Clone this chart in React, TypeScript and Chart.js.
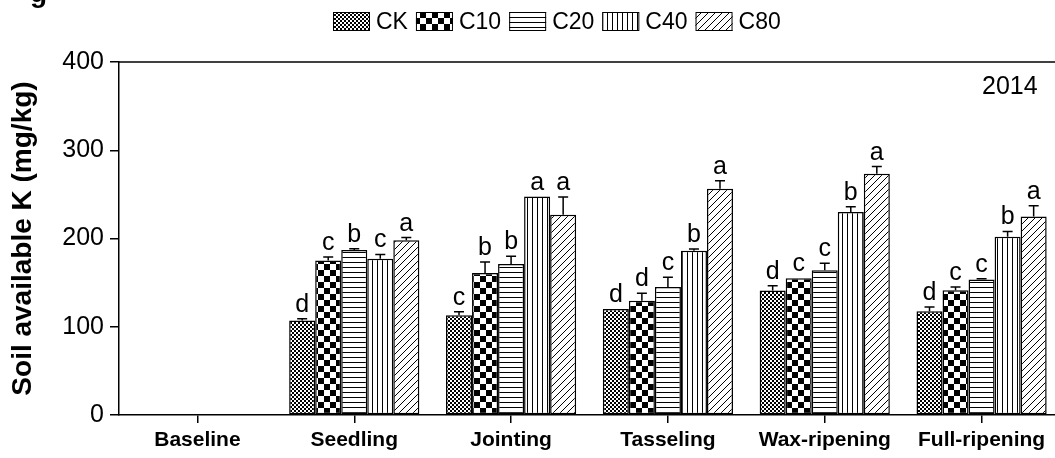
import React, { useEffect, useRef } from "react";
import { Chart, registerables } from "chart.js";
Chart.register(...registerables);

const categories = ["Baseline", "Seedling", "Jointing", "Tasseling", "Wax-ripening", "Full-ripening"];
const seriesNames = ["CK", "C10", "C20", "C40", "C80"];
const ckValues = [null, 107, 113, 120, 141, 117.5];
const c10Values = [null, 175, 161, 129.5, 155, 141.5];
const c20Values = [null, 187, 171, 145, 164, 153.5];
const c40Values = [null, 177, 247.5, 186, 230, 202];
const c80Values = [null, 198, 227, 256.5, 273.5, 225];
const ckErrors = [0, 2, 4, 0, 5.5, 5];
const c10Errors = [0, 4, 12.5, 8.5, 0, 3.5];
const c20Errors = [0, 1.5, 9, 11, 8, 1];
const c40Errors = [0, 5, 0, 2, 6, 6];
const c80Errors = [0, 3, 20, 9, 8, 12];
const ckLetters = ["", "d", "c", "d", "d", "d"];
const c10Letters = ["", "c", "b", "d", "c", "c"];
const c20Letters = ["", "b", "b", "c", "c", "c"];
const c40Letters = ["", "c", "a", "b", "b", "b"];
const c80Letters = ["", "a", "a", "a", "a", "a"];
const yTickValues = [0, 100, 200, 300, 400];
const yTitle = "Soil available K (mg/kg)";
const yearLabel = "2014";

const FONT = "'Liberation Sans', Arial, Helvetica, sans-serif";

function makePattern(kind: string): CanvasPattern {
  const c = document.createElement("canvas");
  const ctx = c.getContext("2d")!;
  if (kind === "CK") {
    c.width = 4; c.height = 4;
    ctx.fillStyle = "#fff"; ctx.fillRect(0, 0, 4, 4);
    ctx.fillStyle = "#000";
    ctx.fillRect(0, 0, 2, 2); ctx.fillRect(2, 2, 2, 2);
  } else if (kind === "C10") {
    c.width = 12; c.height = 12;
    ctx.fillStyle = "#fff"; ctx.fillRect(0, 0, 12, 12);
    ctx.fillStyle = "#000";
    ctx.fillRect(0, 0, 6, 6); ctx.fillRect(6, 6, 6, 6);
  } else if (kind === "C20") {
    c.width = 5; c.height = 5;
    ctx.fillStyle = "#fff"; ctx.fillRect(0, 0, 5, 5);
    ctx.fillStyle = "#000"; ctx.fillRect(0, 2, 5, 1);
  } else if (kind === "C40") {
    c.width = 5; c.height = 5;
    ctx.fillStyle = "#fff"; ctx.fillRect(0, 0, 5, 5);
    ctx.fillStyle = "#000"; ctx.fillRect(2, 0, 1, 5);
  } else {
    c.width = 7; c.height = 7;
    ctx.fillStyle = "#fff"; ctx.fillRect(0, 0, 7, 7);
    ctx.strokeStyle = "#000"; ctx.lineWidth = 1;
    ctx.beginPath();
    ctx.moveTo(-1, 8); ctx.lineTo(8, -1);
    ctx.moveTo(-1, 1); ctx.lineTo(1, -1);
    ctx.moveTo(6, 8); ctx.lineTo(8, 6);
    ctx.stroke();
  }
  return ctx.createPattern(c, "repeat")!;
}

export default function App() {
  const ref = useRef<HTMLCanvasElement | null>(null);
  useEffect(() => {
    const canvas = ref.current!;
    const values = [ckValues, c10Values, c20Values, c40Values, c80Values];
    const errors = [ckErrors, c10Errors, c20Errors, c40Errors, c80Errors];
    const letters = [ckLetters, c10Letters, c20Letters, c40Letters, c80Letters];
    const patterns = seriesNames.map((n) => makePattern(n));

    const extras = {
      id: "extras",
      afterDatasetsDraw(chart: any) {
        const ctx = chart.ctx;
        const y = chart.scales.y;
        const area = chart.chartArea;
        ctx.save();
        // top frame line
        ctx.strokeStyle = "#000";
        ctx.lineWidth = 1.5;
        ctx.beginPath();
        ctx.moveTo(area.left, area.top);
        ctx.lineTo(area.right + 5, area.top);
        ctx.stroke();
        // error bars + letters
        values.forEach((vals, i) => {
          const meta = chart.getDatasetMeta(i);
          meta.data.forEach((el: any, j: number) => {
            const v = vals[j];
            if (v == null) return;
            const e = errors[i][j];
            const top = y.getPixelForValue(v);
            const capY = y.getPixelForValue(v + e);
            if (e > 0) {
              ctx.lineWidth = 1.5;
              ctx.beginPath();
              ctx.moveTo(el.x, top);
              ctx.lineTo(el.x, capY);
              ctx.moveTo(el.x - 5, capY);
              ctx.lineTo(el.x + 5, capY);
              ctx.stroke();
            }
            ctx.fillStyle = "#000";
            ctx.font = `25px ${FONT}`;
            ctx.textAlign = "center";
            ctx.textBaseline = "alphabetic";
            ctx.fillText(letters[i][j], el.x, capY - 7);
          });
        });
        // year label
        ctx.font = `25px ${FONT}`;
        ctx.textAlign = "left";
        ctx.textBaseline = "alphabetic";
        ctx.fillText(yearLabel, 982, 94);
        // cropped panel letter fragment
        ctx.font = `bold 28px ${FONT}`;
        ctx.fillText("g", 30, 2);
        // legend
        let x = 333;
        const boxW = 37, boxH = 19, boxTop = 12;
        ctx.font = `23px ${FONT}`;
        ctx.textBaseline = "middle";
        seriesNames.forEach((name, i) => {
          ctx.fillStyle = patterns[i];
          ctx.fillRect(x, boxTop, boxW, boxH);
          ctx.lineWidth = 1;
          ctx.strokeStyle = "#000";
          ctx.strokeRect(x + 0.5, boxTop + 0.5, boxW - 1, boxH - 1);
          ctx.fillStyle = "#000";
          const tx = x + boxW + 6;
          ctx.fillText(name, tx, boxTop + boxH / 2 + 1);
          x = tx + ctx.measureText(name).width + 8;
        });
        ctx.restore();
      },
    };

    const chart = new Chart(canvas, {
      type: "bar",
      data: {
        labels: categories,
        datasets: seriesNames.map((name, i) => ({
          label: name,
          data: values[i],
          backgroundColor: patterns[i],
          borderColor: "#000",
          borderWidth: 1.5,
          borderSkipped: false,
          categoryPercentage: 0.83,
          barPercentage: 1.0,
        })),
      },
      options: {
        responsive: false,
        animation: false,
        devicePixelRatio: 1,
        layout: { padding: { top: 62, left: 0, right: 0, bottom: 0 } },
        plugins: {
          legend: { display: false },
          tooltip: { enabled: false },
        },
        scales: {
          x: {
            grid: { display: true, drawOnChartArea: false, drawTicks: true, tickLength: 8, color: "#000", lineWidth: 1.5, offset: false },
            border: { display: true, color: "#000", width: 1.5 },
            ticks: { color: "#000", font: { family: FONT, size: 21, weight: "bold" }, padding: 5, maxRotation: 0, autoSkip: false },
            afterFit: (s: any) => { s.height = 43; },
          },
          y: {
            min: 0,
            max: 400,
            afterBuildTicks: (s: any) => { s.ticks = yTickValues.map((v) => ({ value: v })); },
            grid: { display: true, drawOnChartArea: false, drawTicks: true, tickLength: 9, color: "#000", lineWidth: 1.5 },
            border: { display: true, color: "#000", width: 1.5 },
            ticks: { color: "#000", font: { family: FONT, size: 25 }, padding: 6 },
            title: { display: true, text: yTitle, color: "#000", font: { family: FONT, size: 28, weight: "bold" }, padding: { top: 6, bottom: 0 } },
            afterFit: (s: any) => { s.width = 119; },
          },
        },
      },
      plugins: [extras],
    });
    return () => chart.destroy();
  }, []);

  return (
    <div style={{ position: "fixed", left: 0, top: 0, width: 1055, height: 458, overflow: "hidden", background: "#fff" }}>
      <canvas ref={ref} width={1060} height={458} style={{ display: "block", width: 1060, height: 458 }} />
    </div>
  );
}
